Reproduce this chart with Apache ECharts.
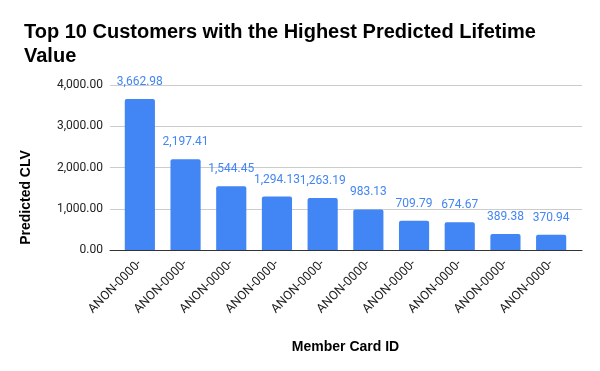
<!DOCTYPE html>
<html>
<head>
<meta charset="utf-8">
<script src="https://cdn.jsdelivr.net/npm/echarts@6/dist/echarts.min.js"></script>
<style>html,body{margin:0;padding:0;background:#fff}#c{width:600px;height:371px}</style>
</head>
<body>
<div id="c"></div>
<script>
const titleText = "Top 10 Customers with the Highest Predicted Lifetime\nValue";
const categories = ["ANON-0000-","ANON-0000-","ANON-0000-","ANON-0000-","ANON-0000-","ANON-0000-","ANON-0000-","ANON-0000-","ANON-0000-","ANON-0000-"];
const clvValues = [3662.98, 2197.41, 1544.45, 1294.13, 1263.19, 983.13, 709.79, 674.67, 389.38, 370.94];
const yTicks = [0, 1000, 2000, 3000, 4000];
const xAxisTitle = "Member Card ID";
const yAxisTitle = "Predicted CLV";

const fmt = v => Number(v).toLocaleString('en-US', {minimumFractionDigits: 2, maximumFractionDigits: 2});
const blue = '#4285F4';
const yMin = yTicks[0], yMax = yTicks[yTicks.length - 1], yInt = yTicks[1] - yTicks[0];

const chart = echarts.init(document.getElementById('c'), null, {renderer: 'canvas'});
chart.setOption({
  animation: false,
  backgroundColor: '#fff',
  title: {
    text: titleText,
    left: 19, top: 15,
    textStyle: {fontFamily: 'Liberation Sans, Arial', fontWeight: 'bold', fontSize: 20, lineHeight: 24, color: '#000'}
  },
  grid: [
    {left: 110, right: 18, top: 85, bottom: 121},
    {left: 117, right: 26, top: 85, bottom: 121}
  ],
  xAxis: [
    {type: 'value', gridIndex: 0, min: 0, max: 1,
     axisLine: {show: true, lineStyle: {color: '#333', width: 1}},
     axisTick: {show: false}, axisLabel: {show: false}, splitLine: {show: false}},
    {type: 'category', gridIndex: 1, data: categories,
     axisLine: {show: false}, axisTick: {show: false},
     axisLabel: {rotate: 45, margin: 12, fontFamily: 'Roboto', fontSize: 12.5, color: '#222', interval: 0},
     name: xAxisTitle, nameLocation: 'middle', nameGap: 90,
     nameTextStyle: {fontFamily: 'Liberation Sans, Arial', fontWeight: 'bold', fontSize: 14, color: '#000'}}
  ],
  yAxis: [
    {type: 'value', gridIndex: 0, min: yMin, max: yMax, interval: yInt,
     axisLine: {show: false}, axisTick: {show: false},
     axisLabel: {formatter: fmt, margin: 7, fontFamily: 'Roboto', fontSize: 12, color: '#222'},
     splitLine: {show: true, lineStyle: {color: '#ccc', width: 1}},
     name: yAxisTitle, nameLocation: 'middle', nameGap: 77, nameRotate: 90,
     nameTextStyle: {fontFamily: 'Liberation Sans, Arial', fontWeight: 'bold', fontSize: 14, color: '#000', padding: [0, 60, 0, 0]}},
    {type: 'value', gridIndex: 1, min: yMin, max: yMax, interval: yInt, show: false}
  ],
  series: [{
    type: 'bar', xAxisIndex: 1, yAxisIndex: 1,
    data: clvValues, barWidth: '66%',
    itemStyle: {color: blue, borderRadius: [2, 2, 0, 0]},
    label: {show: true, position: 'top', distance: 11, formatter: p => fmt(p.value),
            fontFamily: 'Roboto', fontSize: 12, color: blue}
  }]
});
</script>
</body>
</html>
